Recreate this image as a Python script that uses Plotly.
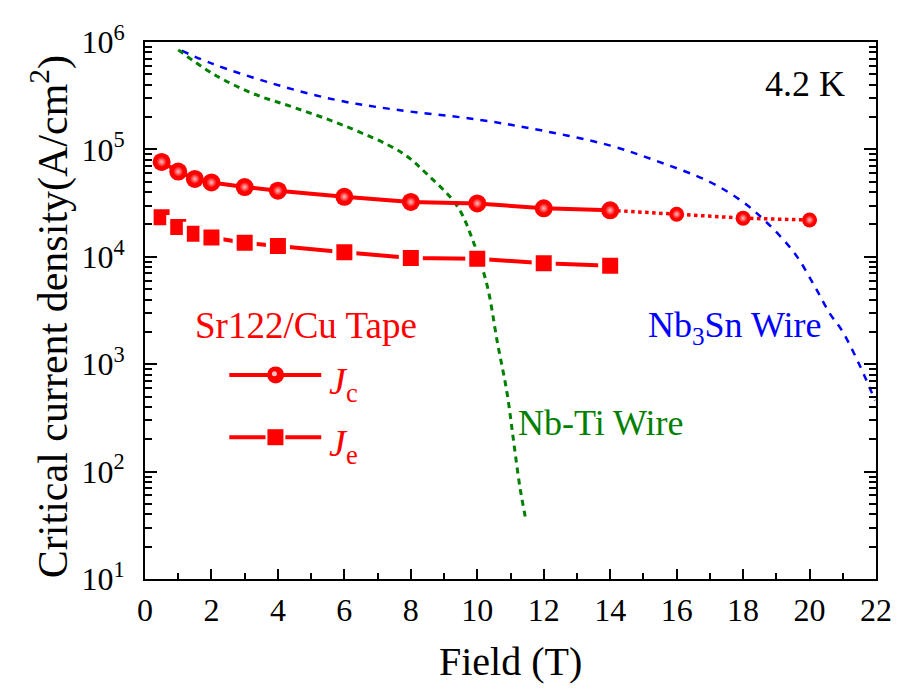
import plotly.graph_objects as go

# ---------------- data ----------------
field_sr = [0.5, 1, 1.5, 2, 3, 4, 6, 8, 10, 12, 14]
jc_vals = [76500, 62100, 53100, 49200, 44600, 41300, 36200, 32400, 31400, 28300, 27100]
je_vals = [23300, 18900, 16400, 15100, 13500, 12600, 11000, 9770, 9570, 8730, 8260]

field_jc_ext = [14, 16, 18, 20]
jc_ext_vals = [27100, 24900, 22900, 22000]

field_nbti = [1.0, 2.04, 3.23, 4.53, 6.02, 7.71, 8.51, 9.40, 9.90, 10.30, 10.60, 10.90, 11.10, 11.29, 11.47]
jc_nbti = [8.45e5, 5.07e5, 3.33e5, 2.43e5, 1.65e5, 9.4e4, 5.8e4, 2.95e4, 1.33e4, 5350, 1630, 530, 185, 69.5, 34.5]

field_nb3sn = [1.1, 2.04, 3.83, 5.72, 7.51, 10.0, 11.99, 13.98, 15.47, 16.96, 17.96, 18.76, 19.55, 20.15, 20.6, 21.0, 21.54, 21.97]
jc_nb3sn = [8.3e5, 6.25e5, 4.11e5, 2.9e5, 2.35e5, 1.9e5, 1.49e5, 1.09e5, 7.66e4, 5.04e4, 3.3e4, 2.02e4, 1.08e4, 5350, 3000, 2000, 930, 460]

x_ticks = [0, 2, 4, 6, 8, 10, 12, 14, 16, 18, 20, 22]
y_tickvals = [1e1, 1e2, 1e3, 1e4, 1e5, 1e6]
y_ticktext = ["10<sup>1</sup>", "10<sup>2</sup>", "10<sup>3</sup>", "10<sup>4</sup>", "10<sup>5</sup>", "10<sup>6</sup>"]

RED = "#ff0000"
GREEN = "#008000"
BLUE = "#0000ff"
FONT = "Liberation Serif, Times New Roman, serif"
HILITE = "#ffc0c0"

fig = go.Figure()

# Nb3Sn wire
fig.add_trace(go.Scatter(x=field_nb3sn, y=jc_nb3sn, mode="lines",
                         line=dict(color=BLUE, width=2.5, dash="7px,7px", shape="spline"),
                         hoverinfo="skip", showlegend=False))
# Nb-Ti wire
fig.add_trace(go.Scatter(x=field_nbti, y=jc_nbti, mode="lines",
                         line=dict(color=GREEN, width=3, dash="6px,5px", shape="spline"),
                         hoverinfo="skip", showlegend=False))

# Jc dotted extension
fig.add_trace(go.Scatter(x=field_jc_ext, y=jc_ext_vals, mode="lines",
                         line=dict(color=RED, width=3.5, dash="dot"),
                         hoverinfo="skip", showlegend=False))
fig.add_trace(go.Scatter(x=field_jc_ext[1:], y=jc_ext_vals[1:], mode="markers",
                         marker=dict(symbol="circle", size=15, color=RED, line=dict(width=0)),
                         hoverinfo="skip", showlegend=False))
fig.add_trace(go.Scatter(x=field_jc_ext[1:], y=jc_ext_vals[1:], mode="markers",
                         marker=dict(symbol="circle", size=9, color=RED,
                                     gradient=dict(type="radial", color=HILITE), line=dict(width=0)),
                         hoverinfo="skip", showlegend=False))

# Je
fig.add_trace(go.Scatter(x=field_sr, y=je_vals, mode="lines+markers",
                         line=dict(color=RED, width=4),
                         marker=dict(symbol="square", size=20, color=RED, line=dict(color="white", width=4)),
                         hoverinfo="skip", showlegend=False))

# Jc
fig.add_trace(go.Scatter(x=field_sr, y=jc_vals, mode="lines+markers",
                         line=dict(color=RED, width=4),
                         marker=dict(symbol="circle", size=18, color=RED, line=dict(width=0)),
                         hoverinfo="skip", showlegend=False))
fig.add_trace(go.Scatter(x=field_sr, y=jc_vals, mode="markers",
                         marker=dict(symbol="circle", size=10, color=RED,
                                     gradient=dict(type="radial", color=HILITE), line=dict(width=0)),
                         hoverinfo="skip", showlegend=False))

# ------------- layout geometry (screen pixels of the target) -------------
L, R, T, B = 145, 882, 31, 579
W, H = 904, 693
OFF = 8  # default body margin of the html page


def px(xp):
    return (xp - L) / (R - L)


def py(yp):
    return (B - yp) / (B - T)


annotations = [
    dict(text="4.2 K", x=px(853), y=py(74), xanchor="right", yanchor="middle",
         font=dict(size=36, color="black", family=FONT)),
    dict(text="Sr122/Cu Tape", x=px(307), y=py(320), xanchor="center", yanchor="middle",
         font=dict(size=37, color=RED, family=FONT)),
    dict(text="Nb<sub>3</sub>Sn Wire", x=px(739), y=py(322), xanchor="center", yanchor="middle",
         font=dict(size=36, color=BLUE, family=FONT)),
    dict(text="Nb-Ti Wire", x=px(605), y=py(420), xanchor="center", yanchor="middle",
         font=dict(size=36, color=GREEN, family=FONT)),
    dict(text="<i>J</i><sub>c</sub>", x=px(328), y=py(380), xanchor="left", yanchor="middle",
         font=dict(size=38, color=RED, family=FONT)),
    dict(text="<i>J</i><sub>e</sub>", x=px(328), y=py(443), xanchor="left", yanchor="middle",
         font=dict(size=38, color=RED, family=FONT)),
    dict(text="Field (T)", x=0.5, y=py(663), xanchor="center", yanchor="middle",
         font=dict(size=40, color="black", family=FONT)),
    dict(text="Critical current density(A/cm<sup>2</sup>)", x=px(50), y=py(311), textangle=-90,
         xanchor="center", yanchor="middle",
         font=dict(size=42, color="black", family=FONT)),
]
for a in annotations:
    a.update(xref="paper", yref="paper", showarrow=False)

shapes = [
    # legend Jc
    dict(type="line", x0=px(230), x1=px(322.7), y0=py(370.7), y1=py(370.7),
         line=dict(color=RED, width=4)),
    dict(type="circle", xsizemode="pixel", ysizemode="pixel", xanchor=px(276.7), yanchor=py(370.7),
         x0=-8.5, x1=8.5, y0=-8.5, y1=8.5, fillcolor=RED, line=dict(width=0)),
    dict(type="circle", xsizemode="pixel", ysizemode="pixel", xanchor=px(275.5), yanchor=py(369.5),
         x0=-2.5, x1=2.5, y0=-2.5, y1=2.5, fillcolor=HILITE, line=dict(width=0)),
    # legend Je
    dict(type="line", x0=px(230), x1=px(266.5), y0=py(434.3), y1=py(434.3),
         line=dict(color=RED, width=4)),
    dict(type="line", x0=px(286.5), x1=px(322.7), y0=py(434.3), y1=py(434.3),
         line=dict(color=RED, width=4)),
    dict(type="rect", xsizemode="pixel", ysizemode="pixel", xanchor=px(276.5), yanchor=py(434.3),
         x0=-8, x1=8, y0=-8, y1=8, fillcolor=RED, line=dict(width=0)),
]
for s in shapes:
    s.update(xref="paper", yref="paper")

fig.update_layout(
    width=W - OFF, height=H - OFF,
    margin=dict(l=L - OFF, r=W - R, t=T - OFF, b=H - B),
    paper_bgcolor="white", plot_bgcolor="white",
    annotations=annotations, shapes=shapes,
    font=dict(family=FONT, color="black"),
    showlegend=False,
)
fig.update_xaxes(
    range=[0, 22], tickvals=x_ticks, ticks="inside", ticklen=10, tickwidth=2, tickcolor="black",
    showline=True, linewidth=2, linecolor="black", mirror=True, showgrid=False, zeroline=False,
    tickfont=dict(size=32, family=FONT, color="black"), ticklabelstandoff=2,
    minor=dict(dtick=1, tick0=0, ticks="inside", ticklen=6, tickwidth=2, tickcolor="black", showgrid=False),
)
fig.update_yaxes(
    type="log", range=[1, 6], tickvals=y_tickvals, ticktext=y_ticktext,
    ticks="inside", ticklen=12, tickwidth=2, tickcolor="black",
    showline=True, linewidth=2, linecolor="black", mirror="ticks", showgrid=False, zeroline=False,
    tickfont=dict(size=32, family=FONT, color="black"), ticklabelstandoff=12,
    minor=dict(dtick="D1", ticks="inside", ticklen=7, tickwidth=2, tickcolor="black", showgrid=False),
)

fig.write_html("out.html")
